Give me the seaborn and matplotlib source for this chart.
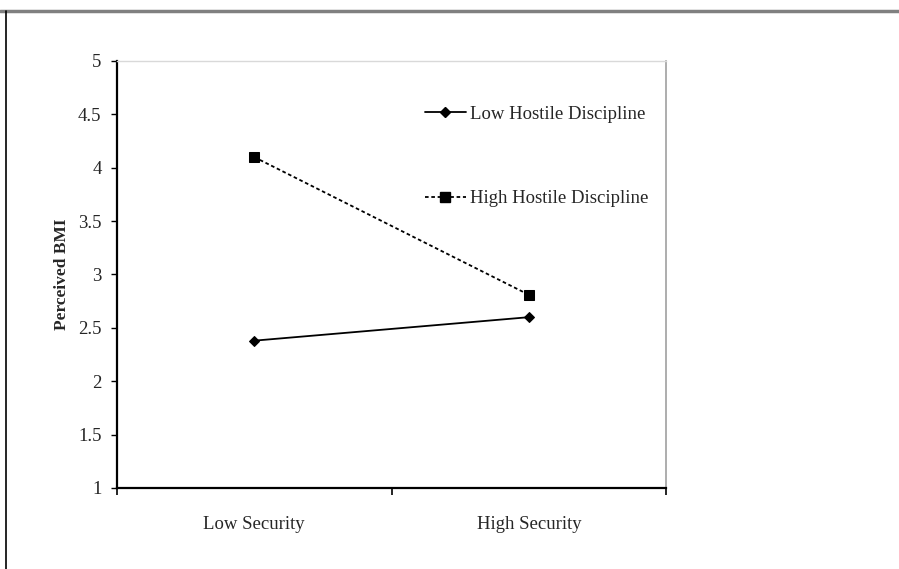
# Perceived BMI by attachment security and hostile discipline
import pandas as pd
import numpy as np
import matplotlib.pyplot as plt
import seaborn as sns
from matplotlib.lines import Line2D

# =========================
# DATA
# =========================
security = ["Low Security", "High Security"]
series_names = ["Low Hostile Discipline", "High Hostile Discipline"]
low_hostile = [2.38, 2.60]
high_hostile = [4.10, 2.81]
y_ticks = [1, 1.5, 2, 2.5, 3, 3.5, 4, 4.5, 5]
y_tick_labels = ["1", "1.5", "2", "2.5", "3", "3.5", "4", "4.5", "5"]

df = pd.DataFrame({
    "Security": security * 2,
    "BMI": low_hostile + high_hostile,
    "Group": [series_names[0]] * 2 + [series_names[1]] * 2,
})

# =========================
# STYLE
# =========================
sns.set_style("white")
plt.rcParams["font.family"] = ["Liberation Serif", "DejaVu Serif"]

fig = plt.figure(figsize=(8.99, 5.69), dpi=100)
ax = fig.add_axes([0.130, 0.1424, 0.611, 0.7504])

styles = {series_names[0]: ("-", "D", 5.5), series_names[1]: ((0, (2, 1.5)), "s", 7)}
for name in series_names:
    ls, mk, ms = styles[name]
    sns.lineplot(data=df[df["Group"] == name], x="Security", y="BMI", ax=ax,
                 color="black", linestyle=ls, linewidth=1.3, marker=mk,
                 markersize=ms, markeredgecolor="black", label=name, legend=False)

# =========================
# AXES
# =========================
ax.set_ylim(1, 5)
ax.set_xlim(-0.5, 1.5)
ax.set_yticks(y_ticks)
ax.set_yticklabels(y_tick_labels, fontsize=13.5)
ax.set_xticks([-0.5, 0.5, 1.5])
ax.set_xticklabels(["", "", ""])
ax.set_xticks([0, 1], minor=True)
ax.set_xticklabels(security, minor=True, fontsize=13.5)
ax.tick_params(axis="x", which="minor", length=0, pad=20)
ax.tick_params(axis="x", which="major", direction="out", length=5, width=1.2, color="black", bottom=True)
ax.tick_params(axis="y", direction="out", length=4, width=1, color="black", left=True, pad=7)
ax.set_xlabel("")
ax.set_ylabel("Perceived BMI", fontsize=12.5, fontweight="bold", labelpad=6)

ax.spines["left"].set_color("black")
ax.spines["left"].set_linewidth(1.6)
ax.spines["bottom"].set_color("black")
ax.spines["bottom"].set_linewidth(1.6)
ax.spines["top"].set_color("#d9d9d9")
ax.spines["top"].set_linewidth(1.0)
ax.spines["right"].set_color("#a0a0a0")
ax.spines["right"].set_linewidth(1.2)

# =========================
# LEGEND
# =========================
handles = [
    Line2D([], [], color="black", linestyle="-", linewidth=1.3, marker="D", markersize=5.5),
    Line2D([], [], color="black", linestyle=(0, (2, 1.5)), linewidth=1.3, marker="s", markersize=7),
]
ax.legend(handles, series_names, loc="upper left", bbox_to_anchor=(0.53, 0.935),
          frameon=False, fontsize=13.5, labelspacing=3.6, handlelength=2.2,
          handletextpad=0.2)

# =========================
# OUTER FRAME
# =========================
fig.add_artist(Line2D([0, 1], [0.981, 0.981], transform=fig.transFigure, color="#808080", linewidth=2.5))
fig.add_artist(Line2D([0.0065, 0.0065], [0, 0.981], transform=fig.transFigure, color="black", linewidth=1.2))

fig.savefig("out.png", dpi=100)
plt.close()
